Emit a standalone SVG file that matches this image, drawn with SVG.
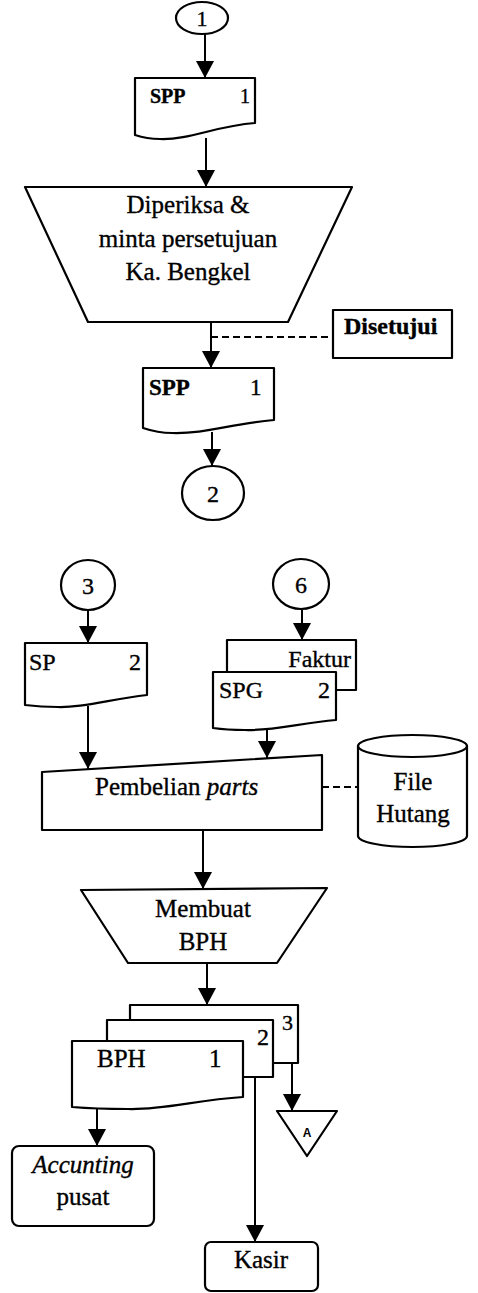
<svg xmlns="http://www.w3.org/2000/svg" width="478" height="1293" viewBox="0 0 478 1293">
  <style>
    .shape { fill: #ffffff; stroke: #000000; stroke-width: 2.2; stroke-linejoin: round; }
    .line { fill: none; stroke: #000000; stroke-width: 2; }
    .dash { fill: none; stroke: #000000; stroke-width: 2; stroke-dasharray: 7 4; }
    .t { font-family: "Liberation Serif", "Times New Roman", serif; font-size: 25px; fill: #000000; stroke: #000000; stroke-width: 0.35; }
    .b { font-weight: bold; }
    .i { font-style: italic; }
    .mid { text-anchor: middle; }
    .end { text-anchor: end; }
  </style>
  <defs>
    <marker id="arrow" viewBox="0 0 17 18" refX="17" refY="9" markerWidth="17" markerHeight="18" markerUnits="userSpaceOnUse" orient="auto">
      <path d="M0,0 L17,9 L0,18 Z" fill="#000000"/>
    </marker>
  </defs>

  <!-- connectors -->
  <g id="connectors">
    <line class="line" x1="205" y1="34" x2="205" y2="78" marker-end="url(#arrow)"/>
    <line class="line" x1="206" y1="138" x2="206" y2="187" marker-end="url(#arrow)"/>
    <line class="line" x1="211" y1="322" x2="211" y2="368" marker-end="url(#arrow)"/>
    <line class="dash" x1="211" y1="337" x2="333" y2="337"/>
    <line class="line" x1="212" y1="432" x2="212" y2="466" marker-end="url(#arrow)"/>
    <line class="line" x1="88" y1="610" x2="88" y2="643" marker-end="url(#arrow)"/>
    <line class="line" x1="302" y1="609" x2="302" y2="640" marker-end="url(#arrow)"/>
    <line class="line" x1="88" y1="706" x2="88" y2="769" marker-end="url(#arrow)"/>
    <line class="line" x1="267" y1="726" x2="267" y2="758" marker-end="url(#arrow)"/>
    <line class="dash" x1="322" y1="787" x2="358" y2="787"/>
    <line class="line" x1="203" y1="830" x2="203" y2="889" marker-end="url(#arrow)"/>
    <line class="line" x1="207" y1="963" x2="207" y2="1005" marker-end="url(#arrow)"/>
    <line class="line" x1="97" y1="1108" x2="97" y2="1146" marker-end="url(#arrow)"/>
    <line class="line" x1="255" y1="1077" x2="255" y2="1242" marker-end="url(#arrow)"/>
    <line class="line" x1="292" y1="1063" x2="292" y2="1111" marker-end="url(#arrow)"/>
  </g>

  <!-- first page: approval of SPP -->
  <g id="conn-1">
    <ellipse class="shape" cx="202" cy="18" rx="26" ry="16"/>
    <text class="t mid" x="202" y="26" style="font-size:22px">1</text>
  </g>
  <g id="doc-spp-a">
    <path class="shape" d="M135,78 H255 V123 C215,126 190,140 160,139 C149,139 141,137 135,135 Z"/>
    <text class="t b" x="150" y="103" style="font-size:20px">SPP</text>
    <text class="t" x="240" y="103" style="font-size:20px">1</text>
  </g>
  <g id="proc-periksa">
    <path class="shape" d="M25,187 H352 L288,322 H88 Z"/>
    <text class="t mid" x="188" y="213">Diperiksa &amp;</text>
    <text class="t mid" x="188" y="247">minta persetujuan</text>
    <text class="t mid" x="188" y="280">Ka. Bengkel</text>
  </g>
  <g id="note-disetujui">
    <rect class="shape" x="333" y="310" width="119" height="48"/>
    <text class="t b" x="344" y="334" style="font-size:24px">Disetujui</text>
  </g>
  <g id="doc-spp-b">
    <path class="shape" d="M143,368 H274 V420 C230,424 205,434 172,433 C158,433 149,430 143,428 Z"/>
    <text class="t b" x="149" y="395" style="font-size:23px">SPP</text>
    <text class="t" x="250" y="395" style="font-size:23px">1</text>
  </g>
  <g id="conn-2">
    <ellipse class="shape" cx="213" cy="493" rx="31" ry="27"/>
    <text class="t mid" x="213" y="502" style="font-size:24px">2</text>
  </g>

  <!-- second page: purchase of parts -->
  <g id="conn-3">
    <ellipse class="shape" cx="88" cy="585" rx="27" ry="25"/>
    <text class="t mid" x="88" y="594" style="font-size:24px">3</text>
  </g>
  <g id="conn-6">
    <ellipse class="shape" cx="301" cy="584" rx="28" ry="25"/>
    <text class="t mid" x="301" y="593" style="font-size:24px">6</text>
  </g>
  <g id="doc-sp">
    <path class="shape" d="M25,643 H147 V695 C110,699 85,708 58,707 C44,707 33,706 25,705 Z"/>
    <text class="t" x="29" y="670" style="font-size:24px">SP</text>
    <text class="t end" x="141" y="670" style="font-size:24px">2</text>
  </g>
  <g id="doc-faktur">
    <rect class="shape" x="227" y="640" width="129" height="50"/>
    <text class="t end" x="351" y="667" style="font-size:24px">Faktur</text>
  </g>
  <g id="doc-spg">
    <path class="shape" d="M213,672 H336 V720 C300,723 272,731 245,730 C230,730 220,729 213,728 Z"/>
    <text class="t" x="219" y="698" style="font-size:24px">SPG</text>
    <text class="t end" x="330" y="698" style="font-size:24px">2</text>
  </g>
  <g id="proc-pembelian">
    <path class="shape" d="M42,772 L322,755 V830 H42 Z"/>
    <text class="t" x="95" y="795">Pembelian <tspan class="i">parts</tspan></text>
  </g>
  <g id="file-hutang">
    <path class="shape" d="M358,746 V836 A54.5,11 0 0 0 467,836 V746"/>
    <ellipse class="shape" cx="412.5" cy="746" rx="54.5" ry="11"/>
    <text class="t mid" x="413" y="790">File</text>
    <text class="t mid" x="413" y="822">Hutang</text>
  </g>
  <g id="proc-bph">
    <path class="shape" d="M81,890 L327,888 L277,963 H128 Z"/>
    <text class="t mid" x="203" y="917">Membuat</text>
    <text class="t mid" x="203" y="950">BPH</text>
  </g>
  <g id="doc-bph-3">
    <rect class="shape" x="130" y="1005" width="168" height="58"/>
    <text class="t" x="282" y="1030" style="font-size:22px">3</text>
  </g>
  <g id="doc-bph-2">
    <rect class="shape" x="107" y="1020" width="166" height="57"/>
    <text class="t" x="257" y="1045" style="font-size:24px">2</text>
  </g>
  <g id="doc-bph-1">
    <path class="shape" d="M72,1041 H243 V1097 C195,1100 165,1110 128,1109 C100,1109 84,1108 72,1107 Z"/>
    <text class="t" x="97" y="1067">BPH</text>
    <text class="t" x="209" y="1067">1</text>
  </g>
  <g id="offpage-a">
    <path class="shape" d="M277,1111 H337 L307,1156 Z"/>
    <text x="307" y="1137" text-anchor="middle" style="font-family:'Liberation Sans',Arial,sans-serif;font-size:12px;font-weight:bold">A</text>
  </g>
  <g id="term-accunting">
    <rect class="shape" x="12" y="1146" width="142" height="80" rx="7"/>
    <text class="t i mid" x="83" y="1173">Accunting</text>
    <text class="t mid" x="83" y="1205">pusat</text>
  </g>
  <g id="term-kasir">
    <rect class="shape" x="205" y="1242" width="113" height="49" rx="6"/>
    <text class="t mid" x="261" y="1268">Kasir</text>
  </g>
</svg>
